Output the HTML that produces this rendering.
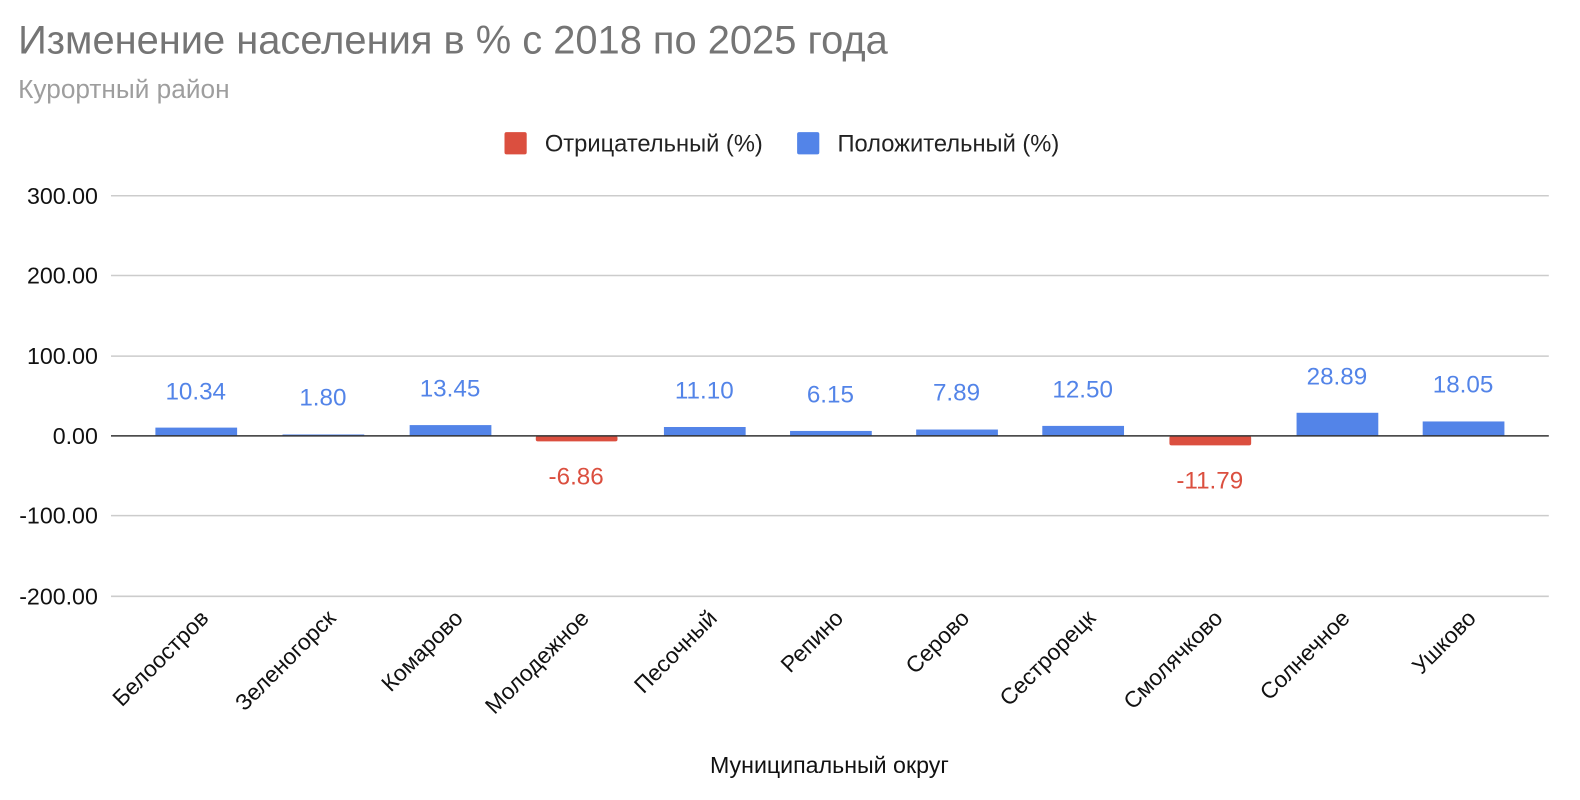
<!DOCTYPE html>
<html><head><meta charset="utf-8"><style>
html,body{margin:0;padding:0;background:#fff;}
svg{display:block;font-family:"Liberation Sans","Noto Sans CJK SC",sans-serif;}
</style></head><body>
<svg width="1580" height="800" viewBox="0 0 1580 800" xmlns="http://www.w3.org/2000/svg">
<g transform="scale(1.009)">
<text x="18" y="53" font-size="39.5" fill="#757575">Изменение населения в % с 2018 по 2025 года</text>
<text x="18" y="97" font-size="26" fill="#9e9e9e">Курортный район</text>
<rect x="500" y="131" width="22" height="22" rx="2" fill="#db4f3f"/>
<text x="540" y="150" font-size="23.5" fill="#222">Отрицательный (%)</text>
<rect x="790" y="131" width="22" height="22" rx="2" fill="#5384e8"/>
<text x="830" y="150" font-size="23.5" fill="#222">Положительный (%)</text>
<g stroke="#cccccc" stroke-width="1.5">
<line x1="110" x2="1535" y1="194" y2="194"/>
<line x1="110" x2="1535" y1="273" y2="273"/>
<line x1="110" x2="1535" y1="353" y2="353"/>
<line x1="110" x2="1535" y1="511" y2="511"/>
<line x1="110" x2="1535" y1="591" y2="591"/>
</g>
<g font-size="23" fill="#111" text-anchor="end">
<text x="97" y="202">300.00</text>
<text x="97" y="281">200.00</text>
<text x="97" y="361">100.00</text>
<text x="97" y="440">0.00</text>
<text x="97" y="519">-100.00</text>
<text x="97" y="599">-200.00</text>
</g>
<g fill="#5384e8">
<rect x="154" y="423.8" width="81" height="8.2"/>
<rect x="280" y="430.6" width="81" height="1.4"/>
<rect x="406" y="421.3" width="81" height="10.7"/>
<rect x="658" y="423.2" width="81" height="8.8"/>
<rect x="783" y="427.1" width="81" height="4.9"/>
<rect x="908" y="425.7" width="81" height="6.3"/>
<rect x="1033" y="422.1" width="81" height="9.9"/>
<rect x="1285" y="409.1" width="81" height="22.9"/>
<rect x="1410" y="417.7" width="81" height="14.3"/>
</g>
<g fill="#db4f3f">
<rect x="531" y="432" width="81" height="5.4" rx="2"/>
<rect x="1159" y="432" width="81" height="9.4" rx="2"/>
</g>
<line x1="110" x2="1535" y1="432" y2="432" stroke="#333" stroke-width="1.5"/>
<g font-size="24" fill="#5384e8" text-anchor="middle">
<text x="194" y="396">10.34</text>
<text x="320" y="402">1.80</text>
<text x="446" y="393">13.45</text>
<text x="698" y="395">11.10</text>
<text x="823" y="399">6.15</text>
<text x="948" y="397">7.89</text>
<text x="1073" y="394">12.50</text>
<text x="1325" y="381">28.89</text>
<text x="1450" y="389">18.05</text>
</g>
<g font-size="24" fill="#db4f3f" text-anchor="middle">
<text x="571" y="480">-6.86</text>
<text x="1199" y="484">-11.79</text>
</g>
<g font-size="22.5" fill="#111" text-anchor="end">
<text transform="translate(208,614) rotate(-45)">Белоостров</text>
<text transform="translate(334,614) rotate(-45)">Зеленогорск</text>
<text transform="translate(460,614) rotate(-45)">Комарово</text>
<text transform="translate(585,614) rotate(-45)">Молодежное</text>
<text transform="translate(712,614) rotate(-45)">Песочный</text>
<text transform="translate(837,614) rotate(-45)">Репино</text>
<text transform="translate(962,614) rotate(-45)">Серово</text>
<text transform="translate(1087,614) rotate(-45)">Сестрорецк</text>
<text transform="translate(1213,614) rotate(-45)">Смолячково</text>
<text transform="translate(1339,614) rotate(-45)">Солнечное</text>
<text transform="translate(1464,614) rotate(-45)">Ушково</text>
</g>
<text x="822" y="766" font-size="23" fill="#111" text-anchor="middle">Муниципальный округ</text>
</g>
</svg>
</body></html>
